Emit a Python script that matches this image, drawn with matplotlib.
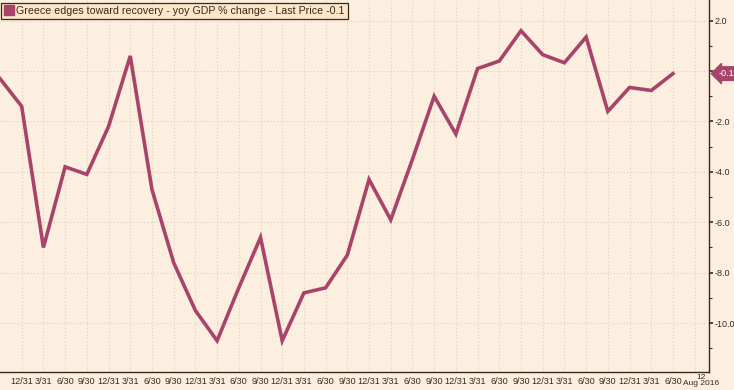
import matplotlib
matplotlib.use("Agg")
import matplotlib.pyplot as plt
from matplotlib.lines import Line2D
from matplotlib.ticker import FixedLocator, MultipleLocator
from matplotlib.transforms import ScaledTranslation

# yoy GDP % change, quarterly from 9/30/2008 to 6/30/2016
gdp_change = [-0.3, -1.4, -7.0, -3.8, -4.1, -2.2, 0.6, -4.7, -7.6, -9.5,
              -10.7, -8.6, -6.6, -10.7, -8.8, -8.6, -7.3, -4.3, -5.9, -3.5,
              -1.0, -2.5, 0.1, 0.4, 1.6, 0.65, 0.33, 1.35, -1.6, -0.65,
              -0.77, -0.1]
quarter_labels = ["12/31", "3/31", "6/30", "9/30"] * 7 + ["12/31", "3/31", "6/30"]
last_tick_label = "12"
last_tick_sub = "Aug 2016"
last_price = -0.1
title = "Greece edges toward recovery - yoy GDP % change - Last Price -0.1"

bg = "#FDEFDF"
line_col = "#A8446A"
grid_col = "#D8D0C2"
txt_col = "#3A2A1A"

plt.rcParams['font.family'] = ['Liberation Sans', 'DejaVu Sans']

fig = plt.figure(figsize=(7.34, 3.9), dpi=100, facecolor=bg)
ax = fig.add_axes([0.0, 1 - 372 / 390, 709 / 734, 372 / 390], facecolor=bg)

x = list(range(len(gdp_change)))
ax.plot(x, gdp_change, color=line_col, linewidth=2.6, solid_joinstyle='miter', zorder=3)

ax.set_xlim(0, 32.66)
ax.set_ylim(-11.94, 2.82)

# x ticks: quarters plus the final date (two lines, as one label)
xticks = list(range(1, len(quarter_labels) + 1)) + [32.0]
ax.xaxis.set_major_locator(FixedLocator(xticks))
labels = ax.set_xticklabels(quarter_labels + [last_tick_label + "\n" + last_tick_sub])
ax.tick_params(axis='x', length=0, pad=3.5, labelsize=6.6, colors=txt_col)
last_lbl = labels[-1]
last_lbl.set_fontsize(6.0)
last_lbl.set_linespacing(0.9)
last_lbl.set_transform(last_lbl.get_transform() + ScaledTranslation(6 / 100, 3 / 100, fig.dpi_scale_trans))

# y axis on the right
ax.yaxis.tick_right()
ax.yaxis.set_major_locator(MultipleLocator(2))
ax.yaxis.set_minor_locator(MultipleLocator(1))
ax.yaxis.set_major_formatter(lambda v, pos: "" if abs(v) < 1e-9 else f"{v:.1f}")
ax.tick_params(axis='y', which='major', length=3, width=1.2, pad=1.0,
               labelsize=6.5, colors=txt_col)
ax.tick_params(axis='y', which='minor', length=2, width=0.8, colors=txt_col)

ax.grid(True, which='major', color=grid_col, linestyle=(0, (1, 2)), linewidth=0.8)

for s in ['top', 'left']:
    ax.spines[s].set_visible(False)
for s in ['right', 'bottom']:
    ax.spines[s].set_color(txt_col)
    ax.spines[s].set_linewidth(1.0)

# last price tag
ax.annotate(f"{last_price:.1f}", xy=(1.0, last_price),
            xycoords=ax.get_yaxis_transform(), xytext=(7, 0),
            textcoords='offset points', ha='left', va='center',
            fontsize=6.6, color='white',
            bbox=dict(boxstyle='larrow,pad=0.25', fc=line_col, ec=line_col))

handle = Line2D([], [], marker='s', linestyle='none', color=line_col, markersize=6.5)
leg = ax.legend([handle], [title], loc='upper left', bbox_to_anchor=(0.0, 0.995),
                fontsize=7.7, frameon=True, fancybox=False, handletextpad=0.3,
                handlelength=0.8, borderpad=0.3, borderaxespad=0.1)
leg.get_frame().set_facecolor("#FCE5C8")
leg.get_frame().set_edgecolor(txt_col)
leg.get_frame().set_alpha(1)
leg.get_frame().set_linewidth(0.9)
for t in leg.get_texts():
    t.set_color(txt_col)

fig.savefig("out.png", dpi=100, facecolor=bg)
